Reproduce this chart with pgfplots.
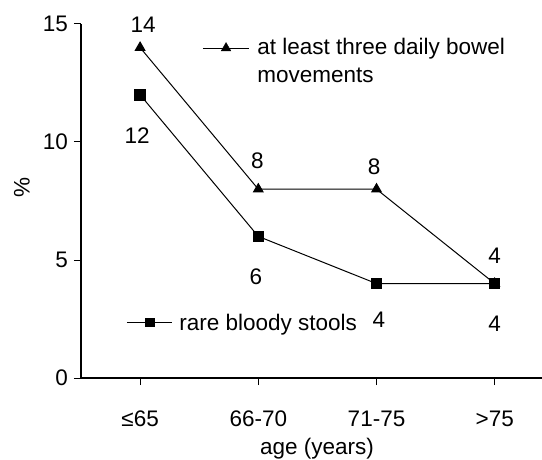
\documentclass[border=0pt]{standalone}
\usepackage{fontspec}
\setmainfont{Liberation Sans}
\usepackage{pgfplots}
\pgfplotsset{compat=1.18}
\begin{document}
\fontsize{22.5bp}{27bp}\selectfont
\begin{tikzpicture}
\begin{axis}[
  scale only axis, width=461bp, height=354bp,
  xmin=-0.5, xmax=3.4, ymin=0, ymax=15,
  axis x line*=bottom, axis y line*=left,
  axis line style={line width=1.3bp, -},
  xtick={0,1,2,3}, xticklabels={≤65,66-70,71-75,>75},
  ytick={0,5,10,15},
  tick align=outside, major tick length=7bp,
  tick style={line width=1bp, black},
  minor tick num=0,
  /pgf/number format/assume math mode=true,
  yticklabel style={inner sep=0pt, anchor=east, xshift=-6bp},
  xticklabel style={inner sep=0pt, anchor=base, yshift=-41bp},
  xlabel={age (years)}, ylabel={\%},
  xlabel style={at={(axis description cs:0.512,-0.2175)}, anchor=base, inner sep=0pt},
  ylabel style={at={(axis description cs:-0.128,0.5395)}, anchor=center, inner sep=0pt},
  clip=false,
]
\addplot[black, line width=1bp, mark=triangle*, mark size=5.5bp, mark options={solid, fill=black}] coordinates {(0,14) (1,8) (2,8) (3,4)};
\addplot[black, line width=1bp, mark=square*, mark size=5.25bp, mark options={solid, fill=black}] coordinates {(0,12) (1,6) (2,4) (3,4)};
% legend samples
\addplot[black, line width=1bp] coordinates {(0.532,13.98) (0.921,13.98)};
\addplot[black, only marks, mark=triangle*, mark size=5.5bp, mark options={fill=black}] coordinates {(0.727,13.98)};
\addplot[black, line width=1bp] coordinates {(-0.111,2.37) (0.27,2.37)};
\addplot[black, only marks, mark=square*, mark size=4.25bp, mark options={fill=black}] coordinates {(0.08,2.37)};
\node[anchor=base west, inner sep=0pt] at (axis cs:0.99,13.69) {at least three daily bowel};
\node[anchor=base west, inner sep=0pt] at (axis cs:0.99,12.5) {movements};
\node[anchor=base west, inner sep=0pt] at (axis cs:0.33,2.03) {rare bloody stools};
% value labels
\node[anchor=base, inner sep=0pt] at (axis cs:0.025,14.62) {14};
\node[anchor=base, inner sep=0pt] at (axis cs:-0.026,9.92) {12};
\node[anchor=base, inner sep=0pt] at (axis cs:0.993,8.86) {8};
\node[anchor=base, inner sep=0pt] at (axis cs:1.979,8.64) {8};
\node[anchor=base, inner sep=0pt] at (axis cs:2.999,4.87) {4};
\node[anchor=base, inner sep=0pt] at (axis cs:0.98,3.98) {6};
\node[anchor=base, inner sep=0pt] at (axis cs:2.02,2.12) {4};
\node[anchor=base, inner sep=0pt] at (axis cs:3.0,1.95) {4};
\end{axis}
\pgfresetboundingbox
\path ([shift={(-81bp,-82bp)}]current axis.south west) rectangle ([shift={(0bp,24bp)}]current axis.north east);
\end{tikzpicture}
\end{document}
